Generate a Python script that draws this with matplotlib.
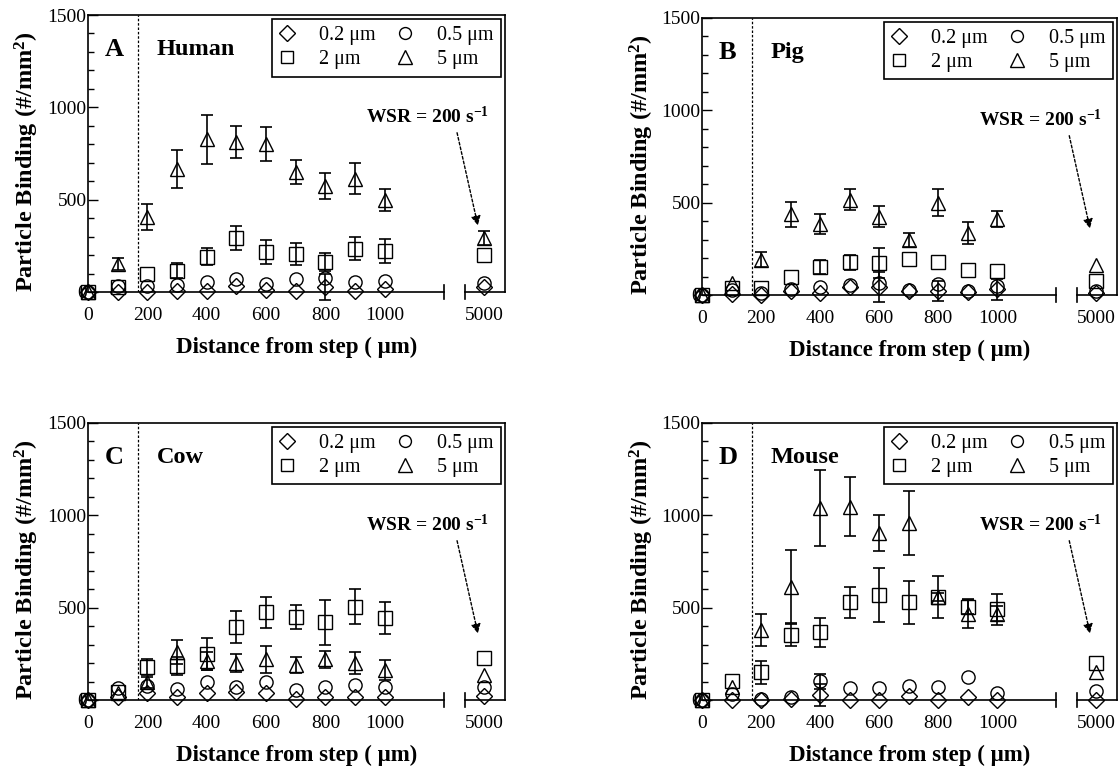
import numpy as np
import matplotlib
matplotlib.use("Agg")
import matplotlib.pyplot as plt
from matplotlib.ticker import MultipleLocator, FixedLocator

plt.rcParams['font.family'] = ['Liberation Serif', 'DejaVu Serif']
plt.rcParams['mathtext.fontset'] = 'custom'
plt.rcParams['mathtext.rm'] = 'Liberation Serif'
plt.rcParams['mathtext.bf'] = 'Liberation Serif:bold'
plt.rcParams['mathtext.default'] = 'bf'

# distance from the step (um); 5000 sits past the axis break
distance = [0, 100, 200, 300, 400, 500, 600, 700, 800, 900, 1000, 5000]
size_labels = ['0.2 μm', '0.5 μm', '2 μm', '5 μm']

# Human
human_02 = [0, 0, 2, 5, 7, 32, 10, 8, 28, 6, 16, 26]
human_05 = [0, 32, 35, 39, 52, 68, 43, 68, 74, 52, 62, 48]
human_2 = [0, 25, 96, 116, 192, 292, 218, 207, 163, 234, 223, 200]
human_5 = [0, 152, 406, 668, 826, 812, 802, 650, 572, 614, 496, 290]
human_02_sd = [0, 0, 0, 0, 0, 0, 0, 0, 70, 0, 0, 0]
human_05_sd = [0] * 12
human_2_sd = [0, 0, 0, 40, 47, 65, 65, 59, 50, 62, 65, 0]
human_5_sd = [0, 33, 72, 103, 133, 85, 90, 67, 71, 86, 60, 38]

# Pig
pig_02 = [0, 4, 0, 22, 12, 45, 42, 22, 20, 18, 30, 13]
pig_05 = [0, 28, 12, 34, 45, 54, 66, 27, 60, 24, 50, 22]
pig_2 = [0, 36, 40, 96, 150, 177, 174, 197, 179, 136, 128, 76]
pig_5 = [0, 63, 192, 436, 384, 517, 424, 300, 500, 336, 412, 160]
pig_02_sd = [0, 0, 0, 0, 0, 0, 80, 0, 55, 0, 55, 0]
pig_05_sd = [0] * 12
pig_2_sd = [0, 0, 0, 0, 39, 40, 82, 0, 0, 0, 0, 0]
pig_5_sd = [0, 0, 42, 68, 52, 58, 56, 38, 72, 59, 45, 0]

# Cow
cow_02 = [0, 18, 36, 14, 36, 45, 36, 4, 14, 18, 14, 22]
cow_05 = [0, 63, 74, 58, 99, 72, 99, 54, 72, 81, 72, 68]
cow_2 = [0, 42, 178, 186, 249, 396, 474, 450, 420, 505, 445, 225]
cow_5 = [0, 40, 96, 261, 211, 202, 220, 189, 220, 202, 162, 135]
cow_02_sd = [0] * 12
cow_05_sd = [0] * 12
cow_2_sd = [0, 0, 45, 48, 88, 88, 82, 65, 123, 95, 88, 0]
cow_5_sd = [0, 0, 30, 65, 50, 48, 72, 45, 47, 60, 53, 0]

# Mouse
mouse_02 = [0, 0, 0, 8, 27, 0, 0, 23, 0, 14, 0, 0]
mouse_05 = [0, 33, 4, 14, 101, 63, 63, 74, 72, 123, 38, 51]
mouse_2 = [0, 105, 150, 351, 366, 528, 571, 528, 558, 504, 490, 198]
mouse_5 = [0, 72, 378, 613, 1038, 1046, 906, 957, 559, 468, 468, 150]
mouse_02_sd = [0, 0, 0, 0, 60, 0, 0, 0, 0, 0, 0, 0]
mouse_05_sd = [0, 0, 0, 0, 40, 0, 0, 0, 0, 0, 0, 0]
mouse_2_sd = [0, 0, 61, 61, 78, 84, 146, 117, 20, 38, 83, 0]
mouse_5_sd = [0, 0, 87, 198, 205, 160, 98, 172, 115, 80, 40, 0]

BREAK_POS = 1335          # where 5000 um is drawn
XMAX = 1405
markers = ['D', 'o', 's', '^']
msizes = [8.5, 9.5, 9.5, 10.5]


def xpos(d):
    d = np.asarray(d, dtype=float)
    return np.where(d > 1000, BREAK_POS, d)


def draw_panel(ax, letter, name, series, sds):
    x = xpos(distance)
    handles = []
    for vals, sd, m, ms, lab in zip(series, sds, markers, msizes, size_labels):
        vals = np.asarray(vals, float)
        sd = np.asarray(sd, float)
        h, = ax.plot(x, vals, ls='none', marker=m, ms=ms, mfc='none',
                     mec='black', mew=1.0, label=lab, clip_on=False, zorder=3)
        handles.append(h)
        has = sd > 0
        if has.any():
            ax.errorbar(x[has], vals[has], yerr=sd[has], fmt='none',
                        ecolor='black', elinewidth=1.2, capsize=4.5,
                        capthick=1.2, clip_on=False, zorder=2)

    ax.set_xlim(0, XMAX)
    ax.set_ylim(0, 1500)
    ax.yaxis.set_major_locator(MultipleLocator(500))
    ax.yaxis.set_minor_locator(MultipleLocator(100))
    ax.xaxis.set_major_locator(FixedLocator([0, 200, 400, 600, 800, 1000, BREAK_POS]))
    ax.set_xticklabels(['0', '200', '400', '600', '800', '1000', '5000'])
    ax.tick_params(axis='y', which='major', direction='in', length=7, width=1,
                   labelsize=14, pad=1)
    ax.tick_params(axis='y', which='minor', direction='in', length=4, width=1)
    ax.tick_params(axis='x', which='major', direction='in', length=0,
                   labelsize=14, pad=11)

    # broken bottom axis
    ax.spines['bottom'].set_visible(False)
    for s in ['left', 'top', 'right']:
        ax.spines[s].set_linewidth(1.2)
    xt = ax.get_xaxis_transform()
    ax.plot([0, 1200], [0, 0], color='black', lw=1.2, transform=xt, clip_on=False)
    ax.plot([1270, XMAX], [0, 0], color='black', lw=1.2, transform=xt, clip_on=False)
    for xb in (1200, 1270):
        ax.plot([xb, xb], [-0.025, 0.025], color='black', lw=1.2,
                transform=xt, clip_on=False)

    ax.axvline(170, color='black', lw=0.9, ls=(0, (2, 1.5)), zorder=1)

    ax.text(0.04, 0.875, letter, transform=ax.transAxes, fontsize=19,
            fontweight='bold', va='center')
    ax.text(0.165, 0.875, name, transform=ax.transAxes, fontsize=17.5,
            fontweight='bold', va='center')
    ax.text(0.815, 0.635, 'WSR = 200 s$^{-1}$', transform=ax.transAxes,
            fontsize=14, fontweight='bold', ha='center', va='center')
    ax.annotate('', xy=(0.935, 0.24), xytext=(0.885, 0.575),
                xycoords='axes fraction', textcoords='axes fraction',
                arrowprops=dict(arrowstyle='-|>', color='black', lw=1.0,
                                ls=(0, (2, 1.5)), mutation_scale=14,
                                shrinkA=0, shrinkB=0))

    order = [handles[0], handles[2], handles[1], handles[3]]
    leg = ax.legend(handles=order, labels=[h.get_label() for h in order],
                    ncol=2, loc='upper right', bbox_to_anchor=(0.99, 0.985),
                    borderaxespad=0, fontsize=14.5, fancybox=False,
                    edgecolor='black', framealpha=1, handlelength=0.8,
                    handletextpad=1.2, columnspacing=1.05, labelspacing=0.25,
                    borderpad=0.35, markerscale=0.9)
    leg.get_frame().set_linewidth(1.2)

    ax.set_xlabel('Distance from step ( μm)', fontsize=16.5, fontweight='bold',
                  labelpad=9)
    ax.set_ylabel('Particle Binding (#/mm$^2$)', fontsize=17.5,
                  fontweight='bold')
    ax.yaxis.set_label_coords(-0.112, 0.47)


fig = plt.figure(figsize=(11.2, 7.71), dpi=100)
axA = fig.add_axes([0.0786, 0.6213, 0.3723, 0.3592])
axB = fig.add_axes([0.6268, 0.6174, 0.3705, 0.3593])
axC = fig.add_axes([0.0786, 0.0921, 0.3723, 0.3593])
axD = fig.add_axes([0.6268, 0.0921, 0.3705, 0.3593])

draw_panel(axA, 'A', 'Human', [human_02, human_05, human_2, human_5],
           [human_02_sd, human_05_sd, human_2_sd, human_5_sd])
draw_panel(axB, 'B', 'Pig', [pig_02, pig_05, pig_2, pig_5],
           [pig_02_sd, pig_05_sd, pig_2_sd, pig_5_sd])
draw_panel(axC, 'C', 'Cow', [cow_02, cow_05, cow_2, cow_5],
           [cow_02_sd, cow_05_sd, cow_2_sd, cow_5_sd])
draw_panel(axD, 'D', 'Mouse', [mouse_02, mouse_05, mouse_2, mouse_5],
           [mouse_02_sd, mouse_05_sd, mouse_2_sd, mouse_5_sd])

fig.savefig('out.png', dpi=100)
